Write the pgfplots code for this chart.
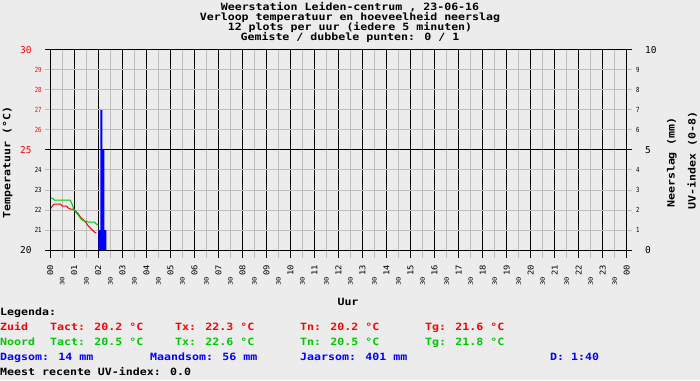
\documentclass[border=0pt]{standalone}
\usepackage{fontspec}
\usepackage{pgfplots}
\pgfplotsset{compat=1.18}
\setmainfont{DejaVu Sans Mono}
\newfontfamily\fT[FakeStretch=1.16]{DejaVu Sans Mono}
\newfontfamily\fB{DejaVu Sans Mono}
\newfontfamily\fS[FakeStretch=0.8]{DejaVu Sans Mono}
\newfontfamily\fH[FakeStretch=1.1]{DejaVu Sans Mono}
\newfontfamily\fM[FakeStretch=1.2]{DejaVu Sans Mono}
\newcommand\tfont{\fT\bfseries\fontsize{10bp}{10bp}\selectfont}
\newcommand\bigfont{\fB\fontsize{9.5bp}{9.5bp}\selectfont}
\newcommand\smallfont{\fS\fontsize{7bp}{7bp}\selectfont}
\newcommand\hourfont{\fH\fontsize{8bp}{8bp}\selectfont}
\newcommand\halffont{\fM\fontsize{6bp}{6bp}\selectfont}
\definecolor{bgc}{RGB}{236,236,236}
\definecolor{gridgray}{RGB}{190,190,190}
\definecolor{mygreen}{RGB}{0,200,0}
\definecolor{myred}{RGB}{255,0,0}
\definecolor{myblue}{RGB}{0,0,255}
\pgfplotsset{base/.style={at={(50.3bp,130bp)}, anchor=south west, scale only axis,
  width=576.4bp, height=200bp, xmin=0, xmax=24,
  axis line style={black, line width=1bp}, tick align=outside,
  /pgf/number format/assume math mode=true}}
\begin{document}
\begin{tikzpicture}[x=1bp,y=1bp]
\fill[bgc] (0,0) rectangle (700,380);
\useasboundingbox (0,0) rectangle (700,380);
% title
\node[anchor=base, inner sep=0pt, font=\tfont] at (350,380-10.3) {Weerstation Leiden-centrum , 23-06-16};
\node[anchor=base, inner sep=0pt, font=\tfont] at (350,380-20.3) {Verloop temperatuur en hoeveelheid neerslag};
\node[anchor=base, inner sep=0pt, font=\tfont] at (350,380-30.3) {12 plots per uur (iedere 5 minuten)};
\node[anchor=base, inner sep=0pt, font=\tfont] at (350,380-40.3) {Gemiste / dubbele punten: 0 / 1};
% x grid and labels
\begin{axis}[base, ymin=20, ymax=30, ytick=\empty,
  xtick={0,...,24},
  xticklabels={00,01,02,03,04,05,06,07,08,09,10,11,12,13,14,15,16,17,18,19,20,21,22,23,00},
  grid=major, major grid style={black, line width=1bp},
  major tick length=8bp, xtick pos=left,
  major tick style={black, line width=1bp},
  xticklabel style={rotate=90, anchor=east, font=\hourfont, inner sep=0pt, xshift=-7bp},
  extra x ticks={0.5,1.5,2.5,3.5,4.5,5.5,6.5,7.5,8.5,9.5,10.5,11.5,12.5,13.5,14.5,15.5,16.5,17.5,18.5,19.5,20.5,21.5,22.5,23.5},
  extra x tick labels={30,30,30,30,30,30,30,30,30,30,30,30,30,30,30,30,30,30,30,30,30,30,30,30},
  extra x tick style={grid=major, major grid style={gridgray, line width=1bp},
    major tick style={gridgray, line width=1bp},
    xticklabel style={font=\halffont, xshift=-11.7bp}},
]
\end{axis}
% temperature axis
\begin{axis}[base, ymin=20, ymax=30, xtick=\empty,
  ytick={20,25,30},
  yticklabels={20,{\color{myred}25},{\color{myred}30}},
  grid=major, major grid style={black, line width=1bp},
  major tick length=5bp, ytick pos=both, yticklabel pos=left,
  major tick style={black, line width=1bp},
  yticklabel style={font=\bigfont, inner sep=0pt, anchor=east, xshift=-13.6bp},
  extra y ticks={21,22,23,24,26,27,28,29},
  extra y tick labels={21,22,23,24,{\color{myred}26},{\color{myred}27},{\color{myred}28},{\color{myred}29}},
  extra y tick style={grid=major, major grid style={gridgray, line width=1bp},
    major tick style={gridgray, line width=1bp},
    yticklabel style={font=\smallfont, xshift=10bp}},
]
\addplot[myred, line width=1bp] coordinates {
(0.000,22.05)(0.083,22.2)(0.167,22.3)(0.250,22.3)(0.333,22.3)(0.417,22.3)
(0.500,22.2)(0.583,22.2)(0.667,22.2)(0.750,22.1)(0.833,22.05)(0.917,22.05)
(1.000,22.0)(1.083,21.9)(1.167,21.8)(1.250,21.65)(1.333,21.55)(1.417,21.45)
(1.500,21.35)(1.583,21.2)(1.667,21.1)(1.750,21.0)(1.833,20.9)(1.917,20.85)};
\addplot[mygreen, line width=1bp] coordinates {
(0.000,22.6)(0.083,22.6)(0.167,22.5)(0.250,22.5)(0.333,22.5)(0.417,22.5)
(0.500,22.5)(0.583,22.5)(0.667,22.5)(0.750,22.5)(0.833,22.5)(0.917,22.25)
(1.000,22.0)(1.083,21.85)(1.167,21.75)(1.250,21.6)(1.333,21.5)(1.417,21.45)
(1.500,21.45)(1.583,21.4)(1.667,21.4)(1.750,21.4)(1.833,21.4)(1.917,21.3)(2.000,21.25)};
\end{axis}
% rain axis
\begin{axis}[base, ymin=0, ymax=10, xtick=\empty,
  ytick={0,5,10}, ytick pos=right, yticklabel pos=right,
  major tick length=0pt, major tick style={draw=none},
  yticklabel style={font=\bigfont, inner sep=0pt, anchor=west, xshift=18.3bp},
  extra y ticks={1,2,3,4,6,7,8,9},
  extra y tick style={yticklabel style={font=\smallfont, xshift=-9bp}},
]
\addplot[ybar interval, fill=myblue, draw=none] coordinates {
(2.0000,1)(2.0833,7)(2.1667,5)(2.2500,1)(2.3333,0)};
\end{axis}
% axis labels
\node[rotate=90, anchor=base, inner sep=0pt, font=\tfont] at (10.3,217.5) {Temperatuur (°C)};
\node[rotate=90, anchor=base, inner sep=0pt, font=\tfont] at (674.5,217.5) {Neerslag (mm)};
\node[rotate=90, anchor=base, inner sep=0pt, font=\tfont] at (695.5,219.5) {UV-index (0-8)};
\node[anchor=base, inner sep=0pt, font=\tfont] at (348,380-305.6) {Uur};
% legend
\begin{scope}[every node/.style={anchor=base west, inner sep=0pt, font=\tfont}]
\node at (0,380-315.3) {Legenda:};
\node[myred] at (0,380-330.9) {Zuid};
\node[myred] at (50,380-330.9) {Tact: 20.2 °C};
\node[myred] at (175,380-330.9) {Tx: 22.3 °C};
\node[myred] at (300,380-330.9) {Tn: 20.2 °C};
\node[myred] at (425,380-330.9) {Tg: 21.6 °C};
\node[mygreen] at (0,380-345.3) {Noord};
\node[mygreen] at (50,380-345.3) {Tact: 20.5 °C};
\node[mygreen] at (175,380-345.3) {Tx: 22.6 °C};
\node[mygreen] at (300,380-345.3) {Tn: 20.5 °C};
\node[mygreen] at (425,380-345.3) {Tg: 21.8 °C};
\node[myblue] at (0,380-360.9) {Dagsom: 14 mm};
\node[myblue] at (150,380-360.9) {Maandsom: 56 mm};
\node[myblue] at (300,380-360.9) {Jaarsom: 401 mm};
\node[myblue] at (550,380-360.9) {D: 1:40};
\node at (0,380-375.9) {Meest recente UV-index: 0.0};
\end{scope}
\end{tikzpicture}
\end{document}
